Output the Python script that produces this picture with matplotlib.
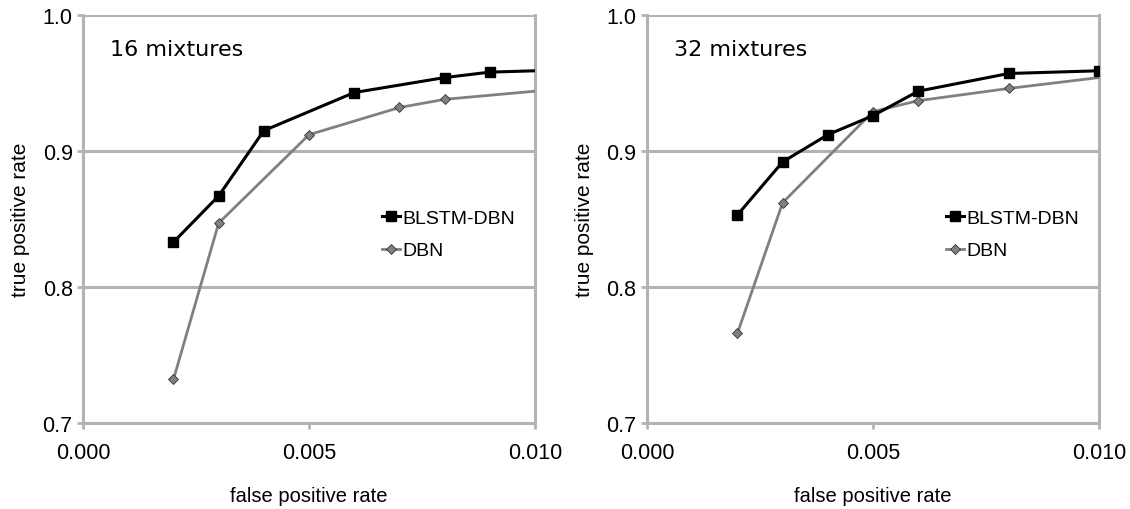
import matplotlib.pyplot as plt
from matplotlib.ticker import FormatStrFormatter

plt.rcParams['font.family'] = ['Liberation Sans', 'DejaVu Sans']

# 16 mixtures (last point of each series lies past the axis and is clipped)
fpr_blstm_16 = [0.002, 0.003, 0.004, 0.006, 0.008, 0.009, 0.011]
tpr_blstm_16 = [0.833, 0.867, 0.915, 0.943, 0.954, 0.958, 0.960]
fpr_dbn_16 = [0.002, 0.003, 0.005, 0.007, 0.008, 0.011]
tpr_dbn_16 = [0.732, 0.847, 0.912, 0.932, 0.938, 0.947]

# 32 mixtures
fpr_blstm_32 = [0.002, 0.003, 0.004, 0.005, 0.006, 0.008, 0.010]
tpr_blstm_32 = [0.853, 0.892, 0.912, 0.926, 0.944, 0.957, 0.959]
fpr_dbn_32 = [0.002, 0.003, 0.005, 0.006, 0.008, 0.011]
tpr_dbn_32 = [0.766, 0.862, 0.929, 0.937, 0.946, 0.958]

panels = [
    ('16 mixtures', fpr_blstm_16, tpr_blstm_16, fpr_dbn_16, tpr_dbn_16),
    ('32 mixtures', fpr_blstm_32, tpr_blstm_32, fpr_dbn_32, tpr_dbn_32),
]

grey = '#b3b3b3'
fig = plt.figure(figsize=(11.3, 5.1), dpi=100)
lefts = [0.0735, 0.5726]

for left, (title, xb, yb, xd, yd) in zip(lefts, panels):
    ax = fig.add_axes([left, 0.1686, 0.400, 0.80])
    ax.set_xlim(0, 0.010)
    ax.set_ylim(0.7, 1.0)
    ax.set_xticks([0.0, 0.005, 0.010])
    ax.set_yticks([0.7, 0.8, 0.9, 1.0])
    ax.xaxis.set_major_formatter(FormatStrFormatter('%.3f'))
    ax.yaxis.set_major_formatter(FormatStrFormatter('%.1f'))
    ax.grid(axis='y', color=grey, lw=2.2)
    ax.set_axisbelow(True)
    for s in ['left', 'bottom', 'right']:
        ax.spines[s].set_color(grey)
        ax.spines[s].set_linewidth(2.2)
    ax.spines['top'].set_visible(False)
    ax.tick_params(axis='both', color=grey, width=2, length=4.5, labelsize=15.5)
    ax.tick_params(axis='x', pad=9)
    ax.tick_params(axis='y', pad=3)

    ax.plot(xb, yb, color='black', lw=2.2, marker='s', ms=7,
            markevery=[i for i in range(len(xb)) if xb[i] <= 0.010],
            label='BLSTM-DBN', zorder=4)
    ax.plot(xd, yd, color='#808080', lw=2.0, marker='D', ms=5.5, mfc='#808080', mec='#333333', mew=0.6,
            markevery=[i for i in range(len(xd)) if xd[i] <= 0.010],
            label='DBN', zorder=3)

    ax.text(0.06, 0.917, title, transform=ax.transAxes, fontsize=16, va='center', ha='left',
            family='DejaVu Sans')
    ax.set_xlabel('false positive rate', fontsize=14.5, labelpad=17)
    ax.set_ylabel('true positive rate', fontsize=15, labelpad=9)
    ax.legend(loc='center left', bbox_to_anchor=(0.645, 0.462), frameon=False, fontsize=14,
              handlelength=0.9, handletextpad=0.15, labelspacing=0.75, borderaxespad=0)

fig.savefig('out.png', dpi=100)
